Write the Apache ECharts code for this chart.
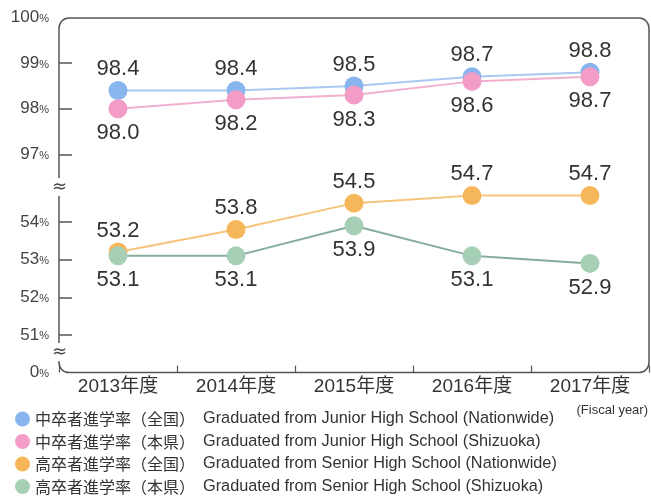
<!DOCTYPE html>
<html>
<head>
<meta charset="utf-8">
<script src="https://cdn.jsdelivr.net/npm/echarts@6/dist/echarts.min.js"></script>
<style>
  html, body { margin: 0; padding: 0; background: #fff; }
  #chart { width: 651px; height: 503px; }
</style>
</head>
<body>
<div id="chart"></div>
<script>
/* 年度 */
var years = ['2013年度', '2014年度', '2015年度', '2016年度', '2017年度'];

// 中卒者進学率
var jhNational = [98.4, 98.4, 98.5, 98.7, 98.8];
var jhShizuoka = [98.0, 98.2, 98.3, 98.6, 98.7];
// 高卒者進学率
var shNational = [53.2, 53.8, 54.5, 54.7, 54.7];
var shShizuoka = [53.1, 53.1, 53.9, 53.1, 52.9];

// 凡例
var seriesNames = ['中卒者進学率（全国）', '中卒者進学率（本県）', '高卒者進学率（全国）', '高卒者進学率（本県）'];
var seriesNamesEn = [
  'Graduated from Junior High School (Nationwide)',
  'Graduated from Junior High School (Shizuoka)',
  'Graduated from Senior High School (Nationwide)',
  'Graduated from Senior High School (Shizuoka)'
];

// 目盛り (上段 / 下段)
var upperTicks = [97, 98, 99, 100];
var upperTickLabels = ['97', '98', '99', '100'];
var lowerTicks = [50, 51, 52, 53, 54];
var lowerTickLabels = ['0', '51', '52', '53', '54'];

var markColors = ['#88b5ee', '#f39cc8', '#f6b65a', '#a6cfb6'];
var lineColors = ['#a9c9f3', '#f2b0d0', '#f7c47e', '#86ad9a'];

var TXT = '#333';

function tickLabel(ticks, labels){
  return function(v){
    var i = ticks.indexOf(Math.round(v));
    return '{n|' + (i < 0 ? v : labels[i]) + '}{p|%}';
  };
}
var yLabelRich = {
  n: { fontSize: 17, fontFamily: 'Liberation Sans', color: '#444' },
  p: { fontSize: 11, fontFamily: 'Liberation Sans', color: '#444', padding: [3, 0, 0, 0] }
};

function makeSeries(idx, data, axisIdx, pos, dist){
  return {
    name: seriesNames[idx],
    type: 'line',
    xAxisIndex: axisIdx,
    yAxisIndex: axisIdx,
    data: data,
    symbol: 'circle',
    symbolSize: 19,
    itemStyle: { color: markColors[idx] },
    lineStyle: { color: lineColors[idx], width: 2 },
    label: {
      show: true,
      position: pos,
      distance: dist,
      fontSize: 22,
      fontFamily: 'Liberation Sans',
      color: TXT,
      formatter: function(p){ return p.value.toFixed(1); }
    },
    emphasis: { disabled: true },
    animation: false
  };
}

var chart = echarts.init(document.getElementById('chart'));

var option = {
  animation: false,
  grid: [
    { left: 59, width: 590, top: 17.4, height: 182.8 },
    { left: 59, width: 590, top: 184.3, height: 188.3 }
  ],
  xAxis: [
    { gridIndex: 0, type: 'category', data: years, show: false },
    {
      gridIndex: 1, type: 'category', data: years,
      axisLine: { show: false },
      axisTick: { show: true, inside: true, length: 7, interval: 0, lineStyle: { color: '#555', width: 1.2 } },
      axisLabel: { interval: 0, margin: 5, fontSize: 19, fontFamily: 'Liberation Sans, Noto Sans CJK JP', color: TXT }
    }
  ],
  yAxis: [
    {
      gridIndex: 0, type: 'value', min: 96, max: 100,
      splitLine: { show: false },
      axisLine: { show: false },
      axisTick: { show: true, inside: true, length: 13, customValues: [97, 98, 99], lineStyle: { color: '#555', width: 1.5 } },
      axisLabel: { margin: 10, customValues: upperTicks, formatter: tickLabel(upperTicks, upperTickLabels), rich: yLabelRich }
    },
    {
      gridIndex: 1, type: 'value', min: 50, max: 55,
      splitLine: { show: false },
      axisLine: { show: false },
      axisTick: { show: true, inside: true, length: 13, customValues: [51, 52, 53, 54], lineStyle: { color: '#555', width: 1.5 } },
      axisLabel: { margin: 10, customValues: lowerTicks, formatter: tickLabel(lowerTicks, lowerTickLabels), rich: yLabelRich }
    }
  ],
  legend: {
    orient: 'vertical',
    left: 15,
    top: 411,
    padding: 0,
    icon: 'circle',
    itemWidth: 15,
    itemHeight: 15,
    itemGap: 6.5,
    selectedMode: false,
    data: seriesNames,
    formatter: function(name){
      return '{jp|' + name + '}{en|' + seriesNamesEn[seriesNames.indexOf(name)] + '}';
    },
    textStyle: {
      rich: {
        jp: { fontSize: 16, fontFamily: 'Noto Sans CJK JP', color: TXT, lineHeight: 20 },
        en: { fontSize: 16.3, fontFamily: 'Liberation Sans', color: TXT, lineHeight: 20, padding: [0, 0, 0, 8] }
      }
    }
  },
  graphic: [
    {
      type: 'rect', z: 10, silent: true,
      shape: { x: 59, y: 18, width: 590, height: 354.6, r: 10 },
      style: { fill: 'none', stroke: '#555', lineWidth: 1.5 }
    },
    {
      type: 'text', z: 11, left: 51, top: 178, silent: true,
      style: { text: '≈', fontSize: 18, fontFamily: 'DejaVu Sans', fill: '#444', backgroundColor: '#fff', padding: [0, 1] }
    },
    {
      type: 'text', z: 11, left: 51, top: 343, silent: true,
      style: { text: '≈', fontSize: 18, fontFamily: 'DejaVu Sans', fill: '#444', backgroundColor: '#fff', padding: [0, 1] }
    },
    {
      type: 'text', right: 3, top: 404, silent: true,
      style: { text: '(Fiscal year)', fontSize: 13, fontFamily: 'Liberation Sans', fill: TXT }
    }
  ],
  series: [
    makeSeries(0, jhNational, 0, 'top', 1),
    makeSeries(1, jhShizuoka, 0, 'bottom', 4),
    makeSeries(2, shNational, 1, 'top', 1),
    makeSeries(3, shShizuoka, 1, 'bottom', 4)
  ]
};

chart.setOption(option);
</script>
</body>
</html>
